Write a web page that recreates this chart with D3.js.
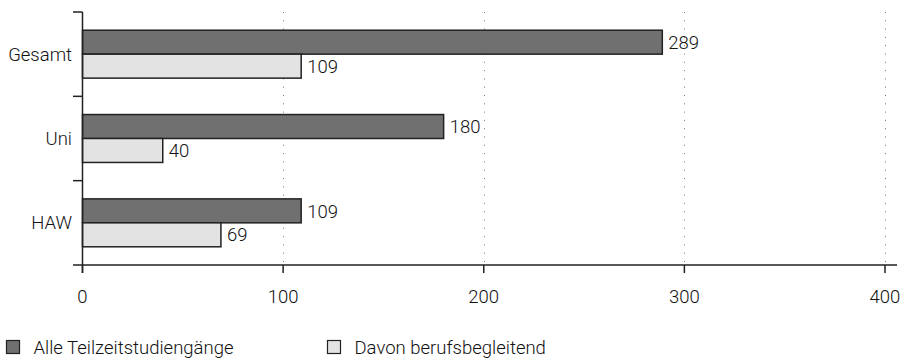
<!DOCTYPE html>
<html>
<head>
<meta charset="utf-8">
<script src="https://cdn.jsdelivr.net/npm/d3@7/dist/d3.min.js"></script>
<style>
  html, body { margin: 0; padding: 0; background: #fff; }
  svg text { font-family: Roboto, "Liberation Sans", sans-serif; font-weight: 300; fill: #111; }
</style>
</head>
<body>
<svg id="chart" width="905" height="359"></svg>
<script>
// Studiengänge nach Hochschulart
const categories = ["Gesamt", "Uni", "HAW"];
const seriesNames = ["Alle Teilzeitstudiengänge", "Davon berufsbegleitend"];
const alleTeilzeit = [289, 180, 109];
const berufsbegleitend = [109, 40, 69];
const xTicks = [0, 100, 200, 300, 400];

const colors = ["#6f706f", "#e2e3e2"];
const ink = "#222";
const fontSize = 18.5;

const svg = d3.select("#chart");

const x = d3.scaleLinear().domain([0, 400]).range([82.5, 885]);
const y = d3.scaleBand().domain(categories).range([12, 265]).paddingInner(0).paddingOuter(0);
const ySub = d3.scaleBand().domain(seriesNames).range([0, y.bandwidth()]).paddingInner(0).paddingOuter(0.76);

const rows = categories.map((c, i) => ({
  cat: c,
  values: [
    { series: seriesNames[0], value: alleTeilzeit[i], color: colors[0] },
    { series: seriesNames[1], value: berufsbegleitend[i], color: colors[1] }
  ]
}));

// dotted gridlines
svg.append("g")
  .selectAll("line")
  .data(xTicks.filter(d => d > 0))
  .join("line")
  .attr("x1", d => Math.round(x(d)) + 0.5)
  .attr("x2", d => Math.round(x(d)) + 0.5)
  .attr("y1", 12)
  .attr("y2", 265)
  .attr("stroke", "#777")
  .attr("stroke-width", 1)
  .attr("stroke-dasharray", "1,7.3");

// bars
const groups = svg.append("g")
  .selectAll("g")
  .data(rows)
  .join("g")
  .attr("transform", d => `translate(0,${y(d.cat)})`);

groups.selectAll("rect")
  .data(d => d.values)
  .join("rect")
  .attr("x", x(0))
  .attr("y", d => ySub(d.series))
  .attr("width", d => x(d.value) - x(0))
  .attr("height", ySub.bandwidth())
  .attr("fill", d => d.color)
  .attr("stroke", ink)
  .attr("stroke-width", 1.5);

groups.selectAll("text.value")
  .data(d => d.values)
  .join("text")
  .attr("class", "value")
  .attr("x", d => x(d.value) + 6)
  .attr("y", d => ySub(d.series) + ySub.bandwidth() / 2)
  .attr("dy", "0.36em")
  .attr("font-size", fontSize)
  .text(d => d.value);

// y axis
const yAxis = svg.append("g");
yAxis.append("line")
  .attr("x1", x(0)).attr("x2", x(0))
  .attr("y1", 12).attr("y2", 273)
  .attr("stroke", ink).attr("stroke-width", 1.5);
const boundaries = categories.map(c => y(c)).concat([y.range()[1]]);
yAxis.selectAll("line.tick")
  .data(boundaries)
  .join("line")
  .attr("class", "tick")
  .attr("x1", 73).attr("x2", x(0))
  .attr("y1", d => d).attr("y2", d => d)
  .attr("stroke", ink).attr("stroke-width", 1.5);
yAxis.selectAll("text")
  .data(categories)
  .join("text")
  .attr("x", 72)
  .attr("y", d => y(d) + y.bandwidth() / 2)
  .attr("dy", "0.36em")
  .attr("text-anchor", "end")
  .attr("font-size", fontSize)
  .text(d => d);

// x axis
const xAxis = svg.append("g");
xAxis.append("line")
  .attr("x1", x(0)).attr("x2", 897)
  .attr("y1", 265).attr("y2", 265)
  .attr("stroke", ink).attr("stroke-width", 1.5);
xAxis.selectAll("line.tick")
  .data(xTicks)
  .join("line")
  .attr("class", "tick")
  .attr("x1", d => x(d)).attr("x2", d => x(d))
  .attr("y1", 265).attr("y2", 273)
  .attr("stroke", ink).attr("stroke-width", 1.5);
xAxis.selectAll("text")
  .data(xTicks)
  .join("text")
  .attr("x", d => x(d))
  .attr("y", 303)
  .attr("text-anchor", "middle")
  .attr("font-size", fontSize)
  .text(d => d);

// legend
const legendX = [6.5, 327.5];
const legend = svg.append("g")
  .selectAll("g")
  .data(seriesNames)
  .join("g")
  .attr("transform", (d, i) => `translate(${legendX[i]},340.5)`);
legend.append("rect")
  .attr("width", 13).attr("height", 13)
  .attr("fill", (d, i) => colors[i])
  .attr("stroke", ink).attr("stroke-width", 1.2);
legend.append("text")
  .attr("x", 27)
  .attr("y", 13.5)
  .attr("font-size", fontSize)
  .text(d => d);
</script>
</body>
</html>
